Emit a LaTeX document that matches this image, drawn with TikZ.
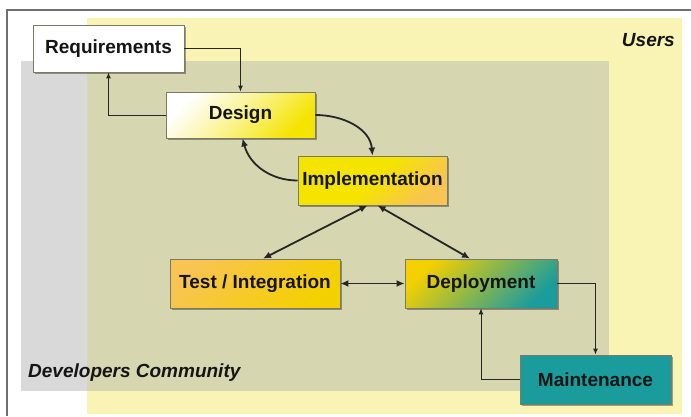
\documentclass[tikz,border=0pt]{standalone}
\usepackage{fontspec}
\setmainfont{Liberation Sans}
\usetikzlibrary{shadows,arrows.meta,calc}
\definecolor{userbg}{HTML}{F9F4B3}
\definecolor{devbg}{HTML}{D9D9D9}
\definecolor{overlap}{HTML}{D6D7B1}
\definecolor{frameg}{HTML}{707070}
\definecolor{boxline}{HTML}{7A7A6A}
\definecolor{yel}{HTML}{F5E400}
\definecolor{yel2}{HTML}{F5D000}
\definecolor{orng}{HTML}{F8C452}
\definecolor{teal}{HTML}{1B9C9C}
\definecolor{txt}{HTML}{151515}
\begin{document}
\begin{tikzpicture}[x=1pt,y=-1pt,
  box/.style={draw=boxline, line width=0.8pt, inner sep=0pt, minimum width=#1,
    font=\fontsize{19}{21}\selectfont\bfseries, text=txt,
    drop shadow={shadow xshift=1.5pt, shadow yshift=-1.5pt, opacity=0.35, fill=black}},
  thinarr/.style={draw=black!85, line width=1pt, -{Latex[length=6pt,width=5pt]}},
  thickarr/.style={draw=black!85, line width=1.8pt, -{Latex[length=8pt,width=7pt]}},
  dblarr/.style={draw=black!85, line width=1.8pt, {Latex[length=8pt,width=7pt]}-{Latex[length=8pt,width=7pt]}},
  lbl/.style={font=\fontsize{19}{21}\selectfont\bfseries\itshape, text=txt, inner sep=0pt}]
\useasboundingbox (0,0) rectangle (691,416);
\fill[white] (0,0) rectangle (691,416);
% frame
\draw[frameg, line width=1.5pt] (7,416) -- (7,10) -- (691,10);
% backgrounds
\fill[userbg] (87,18) rectangle (682,414);
\fill[devbg] (21,61) rectangle (87,391);
\fill[overlap] (87,61) rectangle (609,391);
\node[lbl, anchor=east] (users) at (675,40) {Users};
\node[lbl, anchor=west] (dev) at (28,373) {Developers Community};
% boxes
\node[box=151pt, minimum height=47pt, fill=white] (req) at (108.5,48.5) {Requirements};
\node[box=149pt, minimum height=46pt, top color=white, bottom color=yel, middle color=white!55!yel, shading angle=45] (design) at (240.5,115) {Design};
\node[box=149pt, minimum height=49pt, top color=yel, bottom color=orng, middle color=yel, shading angle=45] (impl) at (372.5,180.5) {Implementation};
\node[box=170pt, minimum height=49pt, top color=orng, bottom color=yel2, shading angle=45] (test) at (255,283.5) {Test / Integration};
\node[box=152pt, minimum height=49pt, top color=yel2, bottom color=teal, middle color=yel2!50!teal, shading angle=45] (deploy) at (481,283.5) {Deployment};
\node[box=151pt, minimum height=49pt, fill=teal] (maint) at (595.5,379.5) {Maintenance};
% connectors
\draw[thinarr] (req.east) -| (design.north);
\draw[thinarr] (design.west) -| (req.south);
\draw[thickarr] (design.east) to[out=0, in=95] (impl.north);
\draw[thickarr] (impl.west) to[out=180, in=-75] ($(design.south)+(2,0)$);
\draw[dblarr] ($(impl.south)+(-5,0)$) -- ($(test.north)+(8,0)$);
\draw[dblarr] ($(impl.south)+(5,0)$) -- ($(deploy.north)+(-11,0)$);
\draw[dblarr] (test.east) -- (deploy.west);
\draw[thinarr] (deploy.east) -| (maint.north);
\draw[thinarr] (maint.west) -| (deploy.south);
\end{tikzpicture}
\end{document}
